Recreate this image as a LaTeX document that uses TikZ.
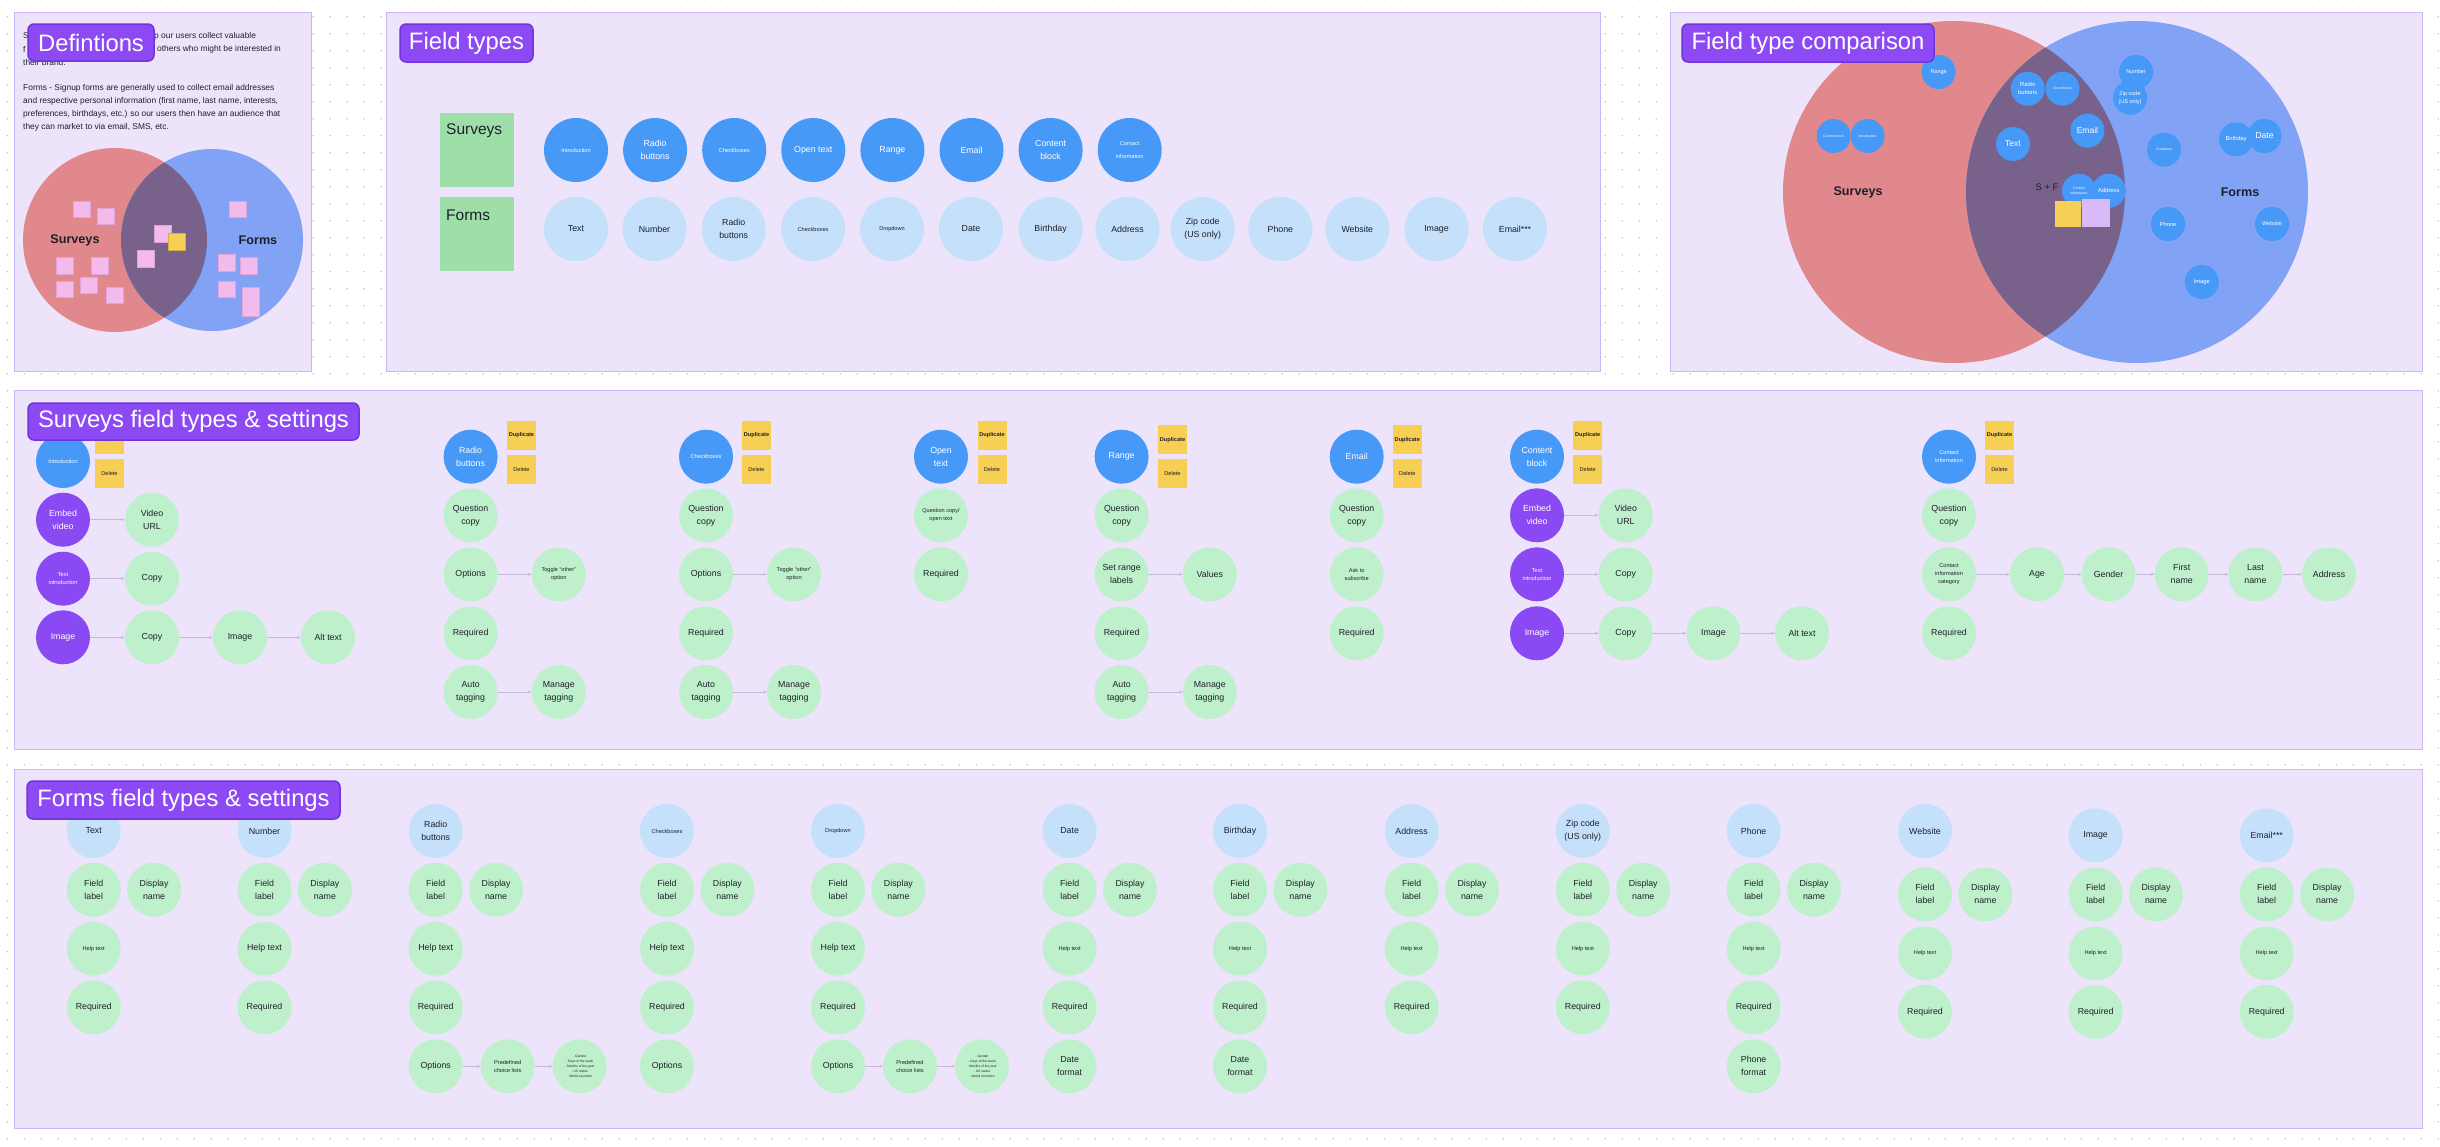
\documentclass[tikz,border=0pt]{standalone}
\usepackage{fontspec}
\setmainfont{Liberation Sans}
\usetikzlibrary{arrows.meta,patterns.meta}
\definecolor{framefill}{HTML}{EDE4FC}
\definecolor{framedraw}{HTML}{CDB6F7}
\definecolor{tagfill}{HTML}{8D4AF4}
\definecolor{tagdraw}{HTML}{6F35D8}
\definecolor{sblue}{HTML}{4799F7}
\definecolor{lblue}{HTML}{C4E0FA}
\definecolor{green1}{HTML}{BEF1CB}
\definecolor{purp}{HTML}{8B49F3}
\definecolor{yel}{HTML}{F7CF55}
\definecolor{darktxt}{HTML}{1F1F2B}
\definecolor{linkc}{HTML}{C6BAD8}
\definecolor{vred}{HTML}{E0888B}
\definecolor{vblue}{HTML}{81A2F5}
\definecolor{vmid}{HTML}{78618A}
\definecolor{pinknote}{HTML}{F3BAEC}
\definecolor{pinkedge}{HTML}{E2A2DA}
\definecolor{purnote}{HTML}{D8BBF6}
\definecolor{greenlab}{HTML}{9EDEA9}
\definecolor{dotc}{HTML}{C4C4CC}
\newcommand\myfs[2]{\fontsize{#1}{#2}\selectfont}
\tikzdeclarepattern{
  name=griddots,
  type=uncolored,
  bounding box={(0pt,0pt) and (17.2pt,17.2pt)},
  tile size={(17.2pt,17.2pt)},
  code={\fill (8.6pt,8.6pt) circle[radius=0.9pt];}
}
\begin{document}
\begin{tikzpicture}[x=1pt,y=-1pt,
  frame/.style={fill=framefill, draw=framedraw, line width=1pt},
  tagbox/.style={rectangle, rounded corners=6pt, fill=tagfill, draw=tagdraw, line width=1.5pt},
  tagtext/.style={text=white, font=\myfs{23.8}{28}},
  fld/.style={circle, minimum size=54pt, inner sep=0pt, align=center, font=\myfs{8.8}{13}},
  tinyf/.style={font=\myfs{5.6}{8}},
  sb/.style={fld, fill=sblue, text=white},
  lb/.style={fld, fill=lblue, text=darktxt},
  gr/.style={fld, fill=green1, text=darktxt},
  pu/.style={fld, fill=purp, text=white},
  ftS/.style={circle, minimum size=64pt, inner sep=0pt, align=center, fill=sblue, text=white},
  ftF/.style={circle, minimum size=64pt, inner sep=0pt, align=center, fill=lblue, text=darktxt},
  cb/.style={circle, minimum size=34pt, inner sep=0pt, align=center, fill=sblue, text=white},
  sticky/.style={rectangle, minimum width=29pt, minimum height=29pt, inner sep=0pt, fill=yel, text=darktxt, font=\myfs{5.6}{7}},
  lnk/.style={draw=linkc, line width=0.8pt, -{Stealth[length=3.5pt,width=3pt]}},
  note/.style={fill=pinknote, draw=pinkedge, line width=0.4pt}
]
\useasboundingbox (0,0) rectangle (2440,1146);
\fill[white] (0,0) rectangle (2440,1146);
\fill[pattern=griddots, pattern color=dotc] (0,0) rectangle (2440,1146);

% ---------------- frames
\draw[frame] (14,12) rectangle (311,371);
\draw[frame] (386,12) rectangle (1600,371);
\draw[frame] (1670,12) rectangle (2422,371);
\draw[frame] (14,390) rectangle (2422,749);
\draw[frame] (14,769) rectangle (2422,1128);

% ---------------- Definitions
\begin{scope}[font=\myfs{8.4}{12.9}, text=darktxt]
\node[anchor=west, inner sep=0pt] (d1a) at (23,36) {S};
\node[anchor=west, inner sep=0pt] (d1b) at (154,36) {p our users collect valuable};
\node[anchor=west, inner sep=0pt] (d2a) at (23,49) {f};
\node[anchor=west, inner sep=0pt] (d2b) at (157,49) {others who might be interested in};
\node[anchor=west, inner sep=0pt] (d3a) at (23,62) {their brand.};
\node[anchor=north west, inner sep=0pt, align=left] (dpara) at (23,84.3)
 {Forms - Signup forms are generally used to collect email addresses\\
  and respective personal information (first name, last name, interests,\\
  preferences, birthdays, etc.) so our users then have an audience that\\
  they can market to via email, SMS, etc.};
\end{scope}
\fill[vred] (115,240) circle[radius=92pt];
\fill[vblue] (212,240) circle[radius=91pt];
\begin{scope}
\clip (115,240) circle[radius=92pt];
\fill[vmid] (212,240) circle[radius=91pt];
\end{scope}
\foreach \a/\b/\c/\d in {73/201/90/217, 97/208/114/224, 56/257/73/274, 91/257/108/274,
  56/281/73/297, 80/277/97/293, 106/287/123/303, 154/225/171/242, 137/250/154/267,
  229/201/246/217, 218/254/235/271, 240/257/257/274, 218/281/235/297, 242/287/259/316}
  {\filldraw[note] (\a,\b) rectangle (\c,\d);}
\filldraw[fill=yel, draw=yel!85!black, line width=0.4pt] (168,233) rectangle (185,250);
\node[font=\myfs{12.6}{15}\bfseries, text=darktxt] (dsv) at (75,240) {Surveys};
\node[font=\myfs{12.6}{15}\bfseries, text=darktxt] (dfm) at (258,240) {Forms};

% ---------------- Field types
\fill[greenlab] (440,113) rectangle (514,187);
\fill[greenlab] (440,197) rectangle (514,271);
\node[anchor=west, font=\myfs{15.5}{18}, text=darktxt, inner sep=0pt] (ftsurv) at (446,131) {Surveys};
\node[anchor=west, font=\myfs{15.5}{18}, text=darktxt, inner sep=0pt] (ftform) at (446,215) {Forms};
\foreach \i/\x/\lab/\fz in {1/576/Introduction/5.6, 2/655.1/{Radio\\buttons}/8.8, 3/734.2/Checkboxes/5.6,
   4/813.3/Open text/8.8, 5/892.4/Range/8.8, 6/971.5/Email/8.8, 7/1050.6/{Content\\block}/8.8,
   8/1129.7/{Contact\\information}/5.6}
  {\node[ftS, font=\myfs{\fz}{13}] (ts\i) at (\x,150) {\lab};}
\foreach \i/\x/\lab/\fz in {1/576/Text/8.8, 2/654.5/Number/8.8, 3/733.7/{Radio\\buttons}/8.8,
   4/813/Checkboxes/5.6, 5/892/Dropdown/5.6, 6/971/Date/8.8, 7/1050.6/Birthday/8.8,
   8/1127.5/Address/8.8, 9/1202.7/{Zip code\\(US only)}/8.8, 10/1280.4/Phone/8.8,
   11/1357.3/Website/8.8, 12/1436.5/Image/8.8, 13/1515/Email***/8.8}
  {\node[ftF, font=\myfs{\fz}{13}] (tf\i) at (\x,229) {\lab};}

% ---------------- Field type comparison
\fill[vred] (1954,192) circle[radius=171pt];
\fill[vblue] (2137,192) circle[radius=171pt];
\begin{scope}
\clip (1954,192) circle[radius=171pt];
\fill[vmid] (2137,192) circle[radius=171pt];
\end{scope}
\node[font=\myfs{12.6}{15}\bfseries, text=darktxt] (csv) at (1858,192) {Surveys};
\node[font=\myfs{12.6}{15}\bfseries, text=darktxt] (cfm) at (2240,192) {Forms};
\node[font=\myfs{9.5}{11}, text=darktxt] (csf) at (2047,187) {S + F};
\node[cb, font=\myfs{5.5}{7}] (cRange) at (1938.6,72) {Range};
\node[cb, font=\myfs{3.4}{5}] (cCont) at (1833.6,136) {Content block};
\node[cb, font=\myfs{3.4}{5}] (cIntro) at (1867.5,136) {Introduction};
\node[cb, font=\myfs{5.8}{8}] (cRadio) at (2027.7,88.7) {Radio\\buttons};
\node[cb, font=\myfs{3.4}{5}] (cCheck) at (2062.5,88.7) {Checkboxes};
\node[cb, font=\myfs{5.5}{7}] (cNum) at (2136,72) {Number};
\node[cb, font=\myfs{5.5}{8}] (cZip) at (2130,97.7) {Zip code\\(US only)};
\node[cb, font=\myfs{8.5}{10}] (cEmail) at (2087.4,130.7) {Email};
\node[cb, font=\myfs{8.5}{10}] (cText) at (2013,144) {Text};
\node[cb, font=\myfs{3.4}{5}] (cDrop) at (2164,149.7) {Dropdown};
\node[cb, font=\myfs{5.7}{7}] (cBirth) at (2236,139.3) {Birthday};
\node[cb, font=\myfs{8.7}{10}] (cDate) at (2264.5,136) {Date};
\node[cb, font=\myfs{3.4}{5}] (cContact) at (2079,190.7) {Contact\\information};
\node[cb, font=\myfs{5.8}{7}] (cAddr) at (2108.8,190.7) {Address};
\node[cb, font=\myfs{5.7}{7}] (cPhone) at (2168,224) {Phone};
\node[cb, font=\myfs{5.5}{7}] (cWeb) at (2272,224) {Website};
\node[cb, font=\myfs{5.7}{7}] (cImg) at (2201.8,282) {Image};
\fill[yel] (2055,200.7) rectangle (2081,226.7);
\fill[purnote] (2082,199) rectangle (2110,227);

% ---------------- Surveys field types & settings
% column A
\node[sb, tinyf] (sA0) at (63,461) {Introduction};
\node[sticky] (stA1) at (109.5,439.5) {\bfseries Duplicate};
\node[sticky] (stA2) at (109.5,473.5) {Delete};
\node[pu] (sA1) at (63,519.7) {Embed\\video};
\node[gr] (sA1b) at (152,519.7) {Video\\URL};
\node[pu, tinyf] (sA2) at (63,578.7) {Text\\introduction};
\node[gr] (sA2b) at (152,578.7) {Copy};
\node[pu] (sA3) at (63,637.3) {Image};
\node[gr] (sA3b) at (152,637.3) {Copy};
\node[gr] (sA3c) at (240,637.3) {Image};
\node[gr] (sA3d) at (328,637.3) {Alt text};
\draw[lnk] (sA1) -- (sA1b);
\draw[lnk] (sA2) -- (sA2b);
\draw[lnk] (sA3) -- (sA3b);
\draw[lnk] (sA3b) -- (sA3c);
\draw[lnk] (sA3c) -- (sA3d);
% column B radio
\node[sb] (sB0) at (470.6,456.7) {Radio\\buttons};
\node[sticky] (stB1) at (521.5,435.5) {\bfseries Duplicate};
\node[sticky] (stB2) at (521.5,469.3) {Delete};
\node[gr] (sB1) at (470.6,515.3) {Question\\copy};
\node[gr] (sB2) at (470.6,574.3) {Options};
\node[gr, tinyf] (sB2b) at (558.8,574.3) {Toggle “other”\\option};
\node[gr] (sB3) at (470.6,633.3) {Required};
\node[gr] (sB4) at (470.6,692) {Auto\\tagging};
\node[gr] (sB4b) at (558.8,692) {Manage\\tagging};
\draw[lnk] (sB2) -- (sB2b);
\draw[lnk] (sB4) -- (sB4b);
% column C checkboxes
\node[sb, tinyf] (sC0) at (706,456.7) {Checkboxes};
\node[sticky] (stC1) at (756.5,435.5) {\bfseries Duplicate};
\node[sticky] (stC2) at (756.5,469.3) {Delete};
\node[gr] (sC1) at (706,515.3) {Question\\copy};
\node[gr] (sC2) at (706,574.3) {Options};
\node[gr, tinyf] (sC2b) at (794,574.3) {Toggle “other”\\option};
\node[gr] (sC3) at (706,633.3) {Required};
\node[gr] (sC4) at (706,692) {Auto\\tagging};
\node[gr] (sC4b) at (794,692) {Manage\\tagging};
\draw[lnk] (sC2) -- (sC2b);
\draw[lnk] (sC4) -- (sC4b);
% column D open text
\node[sb] (sD0) at (941,456.7) {Open\\text};
\node[sticky] (stD1) at (992,435.5) {\bfseries Duplicate};
\node[sticky] (stD2) at (992,469.3) {Delete};
\node[gr, tinyf] (sD1) at (941,515.3) {Question copy/\\open text};
\node[gr] (sD2) at (941,574.3) {Required};
% column E range
\node[sb] (sE0) at (1121.6,456.7) {Range};
\node[sticky] (stE1) at (1172.5,439.8) {\bfseries Duplicate};
\node[sticky] (stE2) at (1172.5,473.5) {Delete};
\node[gr] (sE1) at (1121.6,515.3) {Question\\copy};
\node[gr] (sE2) at (1121.6,574.3) {Set range\\labels};
\node[gr] (sE2b) at (1209.8,574.3) {Values};
\node[gr] (sE3) at (1121.6,633.3) {Required};
\node[gr] (sE4) at (1121.6,692) {Auto\\tagging};
\node[gr] (sE4b) at (1209.8,692) {Manage\\tagging};
\draw[lnk] (sE2) -- (sE2b);
\draw[lnk] (sE4) -- (sE4b);
% column F email
\node[sb] (sF0) at (1356.7,456.7) {Email};
\node[sticky] (stF1) at (1407.3,439.8) {\bfseries Duplicate};
\node[sticky] (stF2) at (1407.3,473.5) {Delete};
\node[gr] (sF1) at (1356.7,515.3) {Question\\copy};
\node[gr, tinyf] (sF2) at (1356.7,574.3) {Ask to\\subscribe};
\node[gr] (sF3) at (1356.7,633.3) {Required};
% column G content block
\node[sb] (sG0) at (1537,456.7) {Content\\block};
\node[sticky] (stG1) at (1587.7,435.5) {\bfseries Duplicate};
\node[sticky] (stG2) at (1587.7,469.3) {Delete};
\node[pu] (sG1) at (1537,515.3) {Embed\\video};
\node[gr] (sG1b) at (1625.7,515.3) {Video\\URL};
\node[pu, tinyf] (sG2) at (1537,574.3) {Text\\introduction};
\node[gr] (sG2b) at (1625.7,574.3) {Copy};
\node[pu] (sG3) at (1537,633.3) {Image};
\node[gr] (sG3b) at (1625.7,633.3) {Copy};
\node[gr] (sG3c) at (1713.4,633.3) {Image};
\node[gr] (sG3d) at (1802,633.3) {Alt text};
\draw[lnk] (sG1) -- (sG1b);
\draw[lnk] (sG2) -- (sG2b);
\draw[lnk] (sG3) -- (sG3b);
\draw[lnk] (sG3b) -- (sG3c);
\draw[lnk] (sG3c) -- (sG3d);
% column H contact information
\node[sb, tinyf] (sH0) at (1949,456.7) {Contact\\information};
\node[sticky] (stH1) at (1999.5,435.5) {\bfseries Duplicate};
\node[sticky] (stH2) at (1999.5,469.3) {Delete};
\node[gr] (sH1) at (1949,515.3) {Question\\copy};
\node[gr, tinyf] (sH2) at (1949,574.3) {Contact\\information\\category};
\node[gr] (sH2a) at (2037,574.3) {Age};
\node[gr] (sH2b) at (2108.5,574.3) {Gender};
\node[gr] (sH2c) at (2181.7,574.3) {First\\name};
\node[gr] (sH2d) at (2255.4,574.3) {Last\\name};
\node[gr] (sH2e) at (2329,574.3) {Address};
\node[gr] (sH3) at (1949,633.3) {Required};
\draw[lnk] (sH2) -- (sH2a);
\draw[lnk] (sH2a) -- (sH2b);
\draw[lnk] (sH2b) -- (sH2c);
\draw[lnk] (sH2c) -- (sH2d);
\draw[lnk] (sH2d) -- (sH2e);

% ---------------- Forms field types & settings
\foreach \n/\x/\ya/\yb/\lab/\hz/\pz in {
  text/93.7/831/889.7/Text/8.8/5.6,
  num/264.5/831/889.7/Number/8.8/8.8,
  radio/435.7/831/889.7/{Radio\\buttons}/8.8/8.8,
  check/667/831/889.7/Checkboxes/5.6/8.8,
  drop/838/831/889.7/Dropdown/5.6/8.8,
  date/1069.6/831/889.7/Date/8.8/5.6,
  birth/1240/831/889.7/Birthday/8.8/5.6,
  addr/1411.6/831/889.7/Address/8.8/5.6,
  zip/1582.8/831/889.7/{Zip code\\(US only)}/8.8/5.6,
  phone/1753.6/831/889.7/Phone/8.8/5.6,
  web/1925/831/894.3/Website/8.8/5.6,
  img/2095.6/835.3/894.3/Image/8.8/5.6,
  email/2266.7/835.3/894.3/Email***/8.8/5.6}
{
  \node[lb, font=\myfs{\hz}{13}] (f\n0) at (\x,\ya) {\lab};
  \node[gr] (f\n1) at (\x,\yb) {Field\\label};
  \node[gr] (f\n2) at (\x+60.4,\yb) {Display\\name};
  \node[gr, font=\myfs{\pz}{13}] (f\n3) at (\x,\yb+59) {Help text};
  \node[gr] (f\n4) at (\x,\yb+117.6) {Required};
}
\node[gr] (fradio5) at (435.7,1066.3) {Options};
\node[gr, tinyf] (fradio6) at (507.7,1066.3) {Predefined\\choice lists};
\node[gr, font=\myfs{3.3}{4.9}] (fradio7) at (579.7,1066.3)
  {- Gender\\- Days of the week\\- Months of the year\\- US states\\- World countries};
\draw[lnk] (fradio5) -- (fradio6);
\draw[lnk] (fradio6) -- (fradio7);
\node[gr] (fcheck5) at (667,1066.3) {Options};
\node[gr] (fdrop5) at (838,1066.3) {Options};
\node[gr, tinyf] (fdrop6) at (910,1066.3) {Predefined\\choice lists};
\node[gr, font=\myfs{3.3}{4.9}] (fdrop7) at (982,1066.3)
  {- Gender\\- Days of the week\\- Months of the year\\- US states\\- World countries};
\draw[lnk] (fdrop5) -- (fdrop6);
\draw[lnk] (fdrop6) -- (fdrop7);
\node[gr] (fdate5) at (1069.6,1066.3) {Date\\format};
\node[gr] (fbirth5) at (1240,1066.3) {Date\\format};
\node[gr] (fphone5) at (1753.6,1066.3) {Phone\\format};

% ---------------- title tags (on top)
\node[tagbox, minimum width=126pt, minimum height=37pt] (tag1) at (91,42.5) {};
\node[tagtext] at (tag1) {Defintions};
\node[tagbox, minimum width=133pt, minimum height=38pt] (tag2) at (466.5,43) {};
\node[tagtext] at (tag2) {Field types};
\node[tagbox, minimum width=252pt, minimum height=38pt] (tag3) at (1808,43) {};
\node[tagtext] at (tag3) {Field type comparison};
\node[tagbox, minimum width=331pt, minimum height=37pt] (tag4) at (193.5,421.5) {};
\node[tagtext] at (tag4) {Surveys field types \& settings};
\node[tagbox, minimum width=313pt, minimum height=38pt] (tag5) at (183.5,800) {};
\node[tagtext] at (tag5) {Forms field types \& settings};
\end{tikzpicture}
\end{document}
